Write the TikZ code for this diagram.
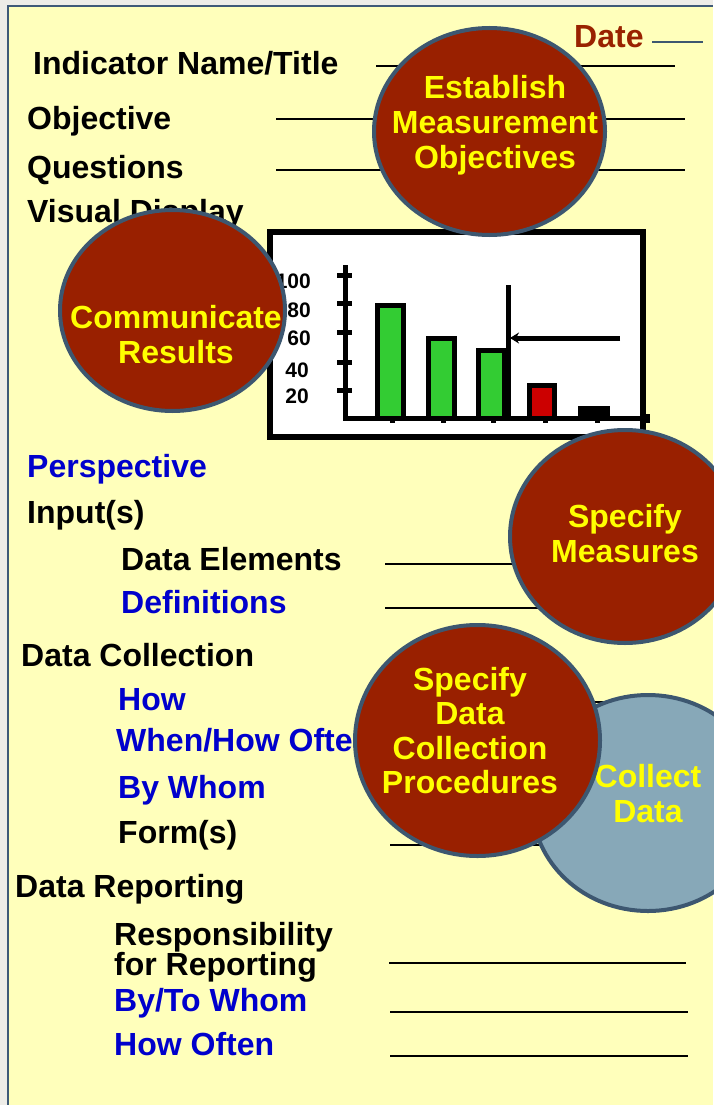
\documentclass[tikz,border=0pt]{standalone}
\usepackage{fontspec}
\setmainfont{Liberation Sans}
\usetikzlibrary{shapes.geometric,arrows.meta}
\definecolor{bggray}{HTML}{EEEDE8}
\definecolor{paper}{HTML}{FFFFBB}
\definecolor{frame}{HTML}{3F5A78}
\definecolor{rim}{HTML}{3D5770}
\definecolor{brick}{HTML}{992000}
\definecolor{steel}{HTML}{87A8B8}
\definecolor{lblue}{HTML}{0000CC}
\definecolor{bargreen}{HTML}{33CC33}
\definecolor{barred}{HTML}{CC0000}
\definecolor{hilite}{HTML}{FFFF00}
\definecolor{datered}{HTML}{992200}
\begin{document}
\begin{tikzpicture}[x=1pt,y=-1pt,
  lbl/.style={anchor=base west, inner sep=0pt, font=\bfseries\fontsize{32}{35}\selectfont, text=black},
  blbl/.style={lbl, text=lblue},
  rule/.style={line width=2.6pt, black},
  blob/.style={ellipse, draw=rim, line width=4pt, fill=brick, inner sep=0pt},
  blobtxt/.style={align=center, inner sep=0pt, text=hilite, font=\bfseries\fontsize{32}{35}\selectfont},
  axlbl/.style={anchor=base east, inner sep=0pt, font=\bfseries\fontsize{21}{23}\selectfont},
  thick5/.style={line width=5pt, black},
  barbox/.style={line width=5pt, draw=black}]
\useasboundingbox (0,0) rectangle (713,1105);
% background
\fill[bggray] (0,0) rectangle (713,1105);
\fill[paper] (7,7) rectangle (713,1105);
\draw[frame, line width=2.3pt] (7.8,1105) -- (7.8,6.2) -- (713,6.2);

% form rules
\draw[rim, line width=2pt] (652,42) -- (703,42);
\draw[rule] (376,66) -- (675,66);
\draw[rule] (276,119) -- (685,119);
\draw[rule] (276,170) -- (685,170);
\draw[rule] (385,564) -- (520,564);
\draw[rule] (385,608) -- (540,608);
\draw[rule] (390,702) -- (688,702);
\draw[rule] (390,845) -- (688,845);
\draw[rule] (389,963) -- (686,963);
\draw[rule] (390,1012) -- (688,1012);
\draw[rule] (390,1056) -- (688,1056);

% labels
\node[lbl, text=datered] (date) at (574,48) {Date};
\node[lbl] (title) at (33,75) {Indicator Name/Title};
\node[lbl] (obj) at (27,130) {Objective};
\node[lbl] (quest) at (27,178) {Questions};
\node[lbl] (visual) at (27,222) {Visual Display};
\node[blbl] (persp) at (27,477) {Perspective};
\node[lbl] (inputs) at (27,523) {Input(s)};
\node[lbl] (delem) at (121,570) {Data Elements};
\node[blbl] (defs) at (121,613) {Definitions};
\node[lbl] (dcoll) at (21,666) {Data Collection};
\node[blbl] (how) at (118,710) {How};
\node[blbl] (whenhow) at (116,751) {When/How Often};
\node[blbl] (bywhom) at (118,798) {By Whom};
\node[lbl] (forms) at (118,843) {Form(s)};
\node[lbl] (drep) at (15,897) {Data Reporting};
\node[lbl, anchor=north west, align=left, font=\bfseries\fontsize{32}{27}\selectfont] (resp) at (114,921.7) {Responsibility\\for Reporting};
\node[blbl] (bytowhom) at (114,1011) {By/To Whom};
\node[blbl] (howoften) at (114,1055) {How Often};

% chart
\draw[line width=5.5pt, fill=white] (270,232) rectangle (643,437);
\node[axlbl] (l100) at (311,288) {100};
\node[axlbl] (l80) at (311,317) {80};
\node[axlbl] (l60) at (311,345) {60};
\node[axlbl] (l40) at (309,377) {40};
\node[axlbl] (l20) at (309,403) {20};
\draw[thick5] (345,265) -- (345,418) -- (650,418);
\foreach \yy in {275,303,332,362,390} \draw[thick5] (337,\yy) -- (352,\yy);
\foreach \xx in {392,443,493,545,597} \draw[thick5] (\xx,418) -- (\xx,423);
\draw[thick5] (647,414) -- (647,423);
\draw[barbox, fill=bargreen] (377.5,305.5) rectangle (403.5,418);
\draw[barbox, fill=bargreen] (428.5,338.5) rectangle (454.5,418);
\draw[barbox, fill=bargreen] (478.5,350.5) rectangle (504.5,418);
\draw[barbox, fill=barred] (529.5,385.5) rectangle (554.5,418);
\fill[black] (578,406) rectangle (610,418);
\draw[thick5] (508,285) -- (508,418);
\coordinate (arrstart) at (620,338);
\coordinate (arrend) at (510,338);
\draw[thick5, -{Stealth[length=9pt,width=11pt]}] (arrstart) -- (arrend);

% circles
\node[blob, fill=steel, minimum width=232pt, minimum height=216pt] (collect) at (648,803) {};
\node[blobtxt] (collecttxt) at (648,793.2) {Collect\\Data};
\node[blob, minimum width=231pt, minimum height=207pt] (estab) at (489.5,131.5) {};
\node[blobtxt] (estabtxt) at (495,125) {Establish\\Measurement\\Objectives};
\node[blob, minimum width=225pt, minimum height=201pt] (comm) at (172.5,310.5) {};
\node[blobtxt] (commtxt) at (176,334.4) {Communicate\\Results};
\node[blob, minimum width=230pt, minimum height=213pt] (specm) at (625,536.5) {};
\node[blobtxt] (specmtxt) at (625,533.2) {Specify\\Measures};
\node[blob, minimum width=245pt, minimum height=231pt] (specdc) at (477.5,740.5) {};
\node[blobtxt, font=\bfseries\fontsize{32}{34.3}\selectfont] (specdctxt) at (470,730.5) {Specify\\Data\\Collection\\Procedures};
\end{tikzpicture}
\end{document}
